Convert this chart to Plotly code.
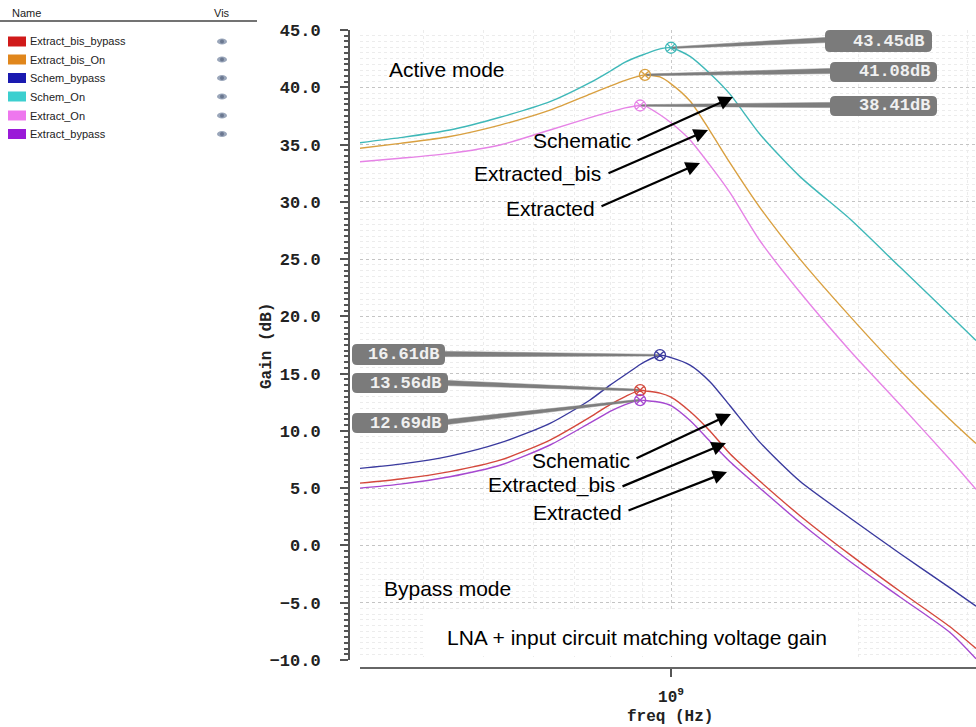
import plotly.graph_objects as go

W, H = 976, 727

# ---------------- data ----------------
freq_mhz = [316, 367, 441, 531, 639, 741, 798, 844, 892, 908, 960, 1000, 1073,
            1155, 1244, 1390, 1612, 1940, 2334, 2809, 3093]

extract_bis_bypass = [5.44, 5.8, 6.45, 7.45, 9.2, 11.2, 12.3, 13.0, 13.56, 13.5, 13.3,
                      12.95, 11.7, 10.0, 8.0, 5.6, 2.6, -0.8, -4.0, -7.1, -9.0]
extract_bis_on = [34.67, 35.1, 35.7, 36.7, 38.0, 39.4, 40.1, 40.6, 41.0, 41.08, 40.9,
                  40.3, 38.8, 36.2, 33.4, 29.5, 25.0, 20.0, 15.3, 11.0, 8.9]
schem_bypass = [6.73, 7.1, 7.8, 8.95, 10.66, 12.7, 14.0, 14.9, 15.8, 16.05, 16.61,
                16.4, 15.75, 14.3, 12.2, 9.0, 5.6, 2.4, -0.7, -3.7, -5.3]
schem_on = [35.16, 35.6, 36.27, 37.38, 38.74, 40.4, 41.4, 42.2, 42.75, 42.9, 43.35,
            43.45, 42.7, 41.2, 39.4, 35.9, 32.2, 28.5, 24.3, 20.1, 17.9]
extract_on = [33.5, 33.8, 34.23, 34.96, 36.27, 37.35, 37.85, 38.2, 38.41, 38.38, 37.6,
              36.9, 35.4, 33.2, 30.8, 26.6, 22.1, 17.0, 12.3, 7.5, 4.9]
extract_bypass = [5.0, 5.35, 6.0, 7.0, 8.77, 10.7, 11.7, 12.3, 12.69, 12.65, 12.5,
                  12.2, 10.9, 9.1, 7.3, 5.0, 2.0, -1.4, -4.5, -7.6, -9.9]

series_names = ["Extract_bis_bypass", "Extract_bis_On", "Schem_bypass",
                "Schem_On", "Extract_On", "Extract_bypass"]
series_values = [extract_bis_bypass, extract_bis_on, schem_bypass,
                 schem_on, extract_on, extract_bypass]

peak_freq_mhz = [892, 908, 960, 1000, 892, 892]
peak_gain = [13.56, 41.08, 16.61, 43.45, 38.41, 12.69]

y_tick_values = [-10, -5, 0, 5, 10, 15, 20, 25, 30, 35, 40, 45]
x_tick_values = [1e9]
x_tick_labels = ["10<sup>9</sup>"]
x_title = "freq (Hz)"
y_title = "Gain (dB)"

# ---------------- style ----------------
swatch_colors = ["#d01a1a", "#e0861c", "#1a1ab0", "#3ccfcf", "#ee77ee", "#9a1ad8"]
line_colors = ["#d4483c", "#d9a040", "#3a3a9e", "#3fb8b8", "#e683e6", "#a548d0"]

PX_L, PX_R = 360, 976
PY_T, PY_B = 30, 660
K = 622.0  # px per decade
X_LOG_RANGE = [9 - (671 - PX_L) / K, 9 + (PX_R - 671) / K]
Y_RANGE = [-10, 45]


def px2f(px):
    return 10 ** (9 + (px - 671) / K)


def py2db(py):
    return Y_RANGE[1] - (py - PY_T) * (Y_RANGE[1] - Y_RANGE[0]) / (PY_B - PY_T)


def X(px):
    return px / W


def Y(py):
    return 1 - py / H


MONO = "Liberation Mono"
SANS = "Liberation Sans"


def note(text, px, py, xa="center", ya="middle", font=None, **kw):
    d = dict(text=text, x=X(px), y=Y(py), xref="paper", yref="paper",
             xanchor=xa, yanchor=ya, showarrow=False, font=font)
    d.update(kw)
    return d


fig = go.Figure()

freq_hz = [f * 1e6 for f in freq_mhz]
for name, vals, col in zip(series_names, series_values, line_colors):
    fig.add_trace(go.Scatter(x=freq_hz, y=vals, mode="lines", name=name,
                             line=dict(color=col, width=1.4, shape="spline", smoothing=0.7),
                             hoverinfo="skip", showlegend=False))

label_boxes = {
    "Schem_On": ((825, 30, 932, 52), 926, (826, 40)),
    "Extract_bis_On": ((830, 62, 937, 82), 932, (831, 71)),
    "Extract_On": ((830, 96, 937, 116), 932, (831, 105)),
    "Schem_bypass": ((352, 344, 445, 365), 441, (444, 354)),
    "Extract_bis_bypass": ((352, 373, 448, 393), 443, (447, 383)),
    "Extract_bypass": ((352, 413, 448, 433), 443, (447, 422)),
}

dbpx = (Y_RANGE[1] - Y_RANGE[0]) / (PY_B - PY_T)
shapes = []
annotations = []
label_font = dict(family=MONO, size=17, color="#f0f0f0", weight="bold")

for name, pf, pg in zip(series_names, peak_freq_mhz, peak_gain):
    (bx0, by0, bx1, by1), tx, (ex, ey) = label_boxes[name]
    fm = pf * 1e6
    fb = px2f(ex)
    gb = py2db(ey)
    w1 = 0.8 * dbpx
    w2 = 2.6 * dbpx
    fig.add_trace(go.Scatter(
        x=[fm, fb, fb, fm, fm], y=[pg + w1, gb + w2, gb - w2, pg - w1, pg + w1],
        mode="lines", fill="toself", fillcolor="#7e7e7e",
        line=dict(width=0.5, color="#7e7e7e"), hoverinfo="skip", showlegend=False))
    r = 5
    path = (f"M {X(bx0 + r)} {Y(by0)} L {X(bx1 - r)} {Y(by0)} "
            f"Q {X(bx1)} {Y(by0)} {X(bx1)} {Y(by0 + r)} L {X(bx1)} {Y(by1 - r)} "
            f"Q {X(bx1)} {Y(by1)} {X(bx1 - r)} {Y(by1)} L {X(bx0 + r)} {Y(by1)} "
            f"Q {X(bx0)} {Y(by1)} {X(bx0)} {Y(by1 - r)} L {X(bx0)} {Y(by0 + r)} "
            f"Q {X(bx0)} {Y(by0)} {X(bx0 + r)} {Y(by0)} Z")
    shapes.append(dict(type="path", path=path, xref="paper", yref="paper",
                       fillcolor="#7b7b7b", line=dict(width=0), layer="above"))
    annotations.append(note(f"{pg:.2f}dB", tx, (by0 + by1) / 2, xa="right",
                            font=label_font))

for name, pf, pg, col in zip(series_names, peak_freq_mhz, peak_gain, line_colors):
    fig.add_trace(go.Scatter(x=[pf * 1e6], y=[pg], mode="markers",
                             marker=dict(symbol="circle-x-open", size=11,
                                         color=col, line=dict(width=1.3, color=col)),
                             hoverinfo="skip", showlegend=False))

big = dict(family=SANS, size=21, color="black")

shapes.append(dict(type="rect", xref="paper", yref="paper", x0=X(423), x1=X(858),
                   y0=Y(656), y1=Y(612), fillcolor="white", line=dict(width=0),
                   layer="above"))
annotations.append(note("LNA + input circuit matching voltage gain", 637, 637, font=big))
annotations.append(note("Active mode", 387, 70, xa="left", font=big))
annotations.append(note("Bypass mode", 382, 588, xa="left", font=big))

arrow_items = [
    ("Schematic", 633, 140, (636, 141), (733, 97)),
    ("Extracted_bis", 603, 174, (607, 174), (708, 130)),
    ("Extracted", 597, 208, (600, 207), (700, 163)),
    ("Schematic", 632, 461, (635, 459), (731, 414)),
    ("Extracted_bis", 617, 485, (621, 487), (726, 443)),
    ("Extracted", 624, 512, (627, 511), (727, 472)),
]
for txt, rx, cy, (tx0, ty0), (hx, hy) in arrow_items:
    annotations.append(note(txt, rx, cy, xa="right", font=big))
    annotations.append(dict(text="", x=X(hx), y=Y(hy), xref="paper", yref="paper",
                            ax=tx0 - hx, ay=ty0 - hy, axref="pixel", ayref="pixel",
                            showarrow=True, arrowhead=2, arrowsize=1.3, arrowwidth=2.2,
                            arrowcolor="black", standoff=0, startstandoff=0))

axis_font = dict(family=MONO, size=16, color="#222", weight="bold")
annotations.append(note(y_title, 267, 346, font=axis_font, textangle=-90))
annotations.append(note(x_title, 670, 717, font=axis_font))

small = dict(family=SANS, size=11, color="#222")
annotations.append(note("Name", 10, 13, xa="left", font=small))
annotations.append(note("Vis", 212, 13, xa="left", font=small))
shapes.append(dict(type="line", xref="paper", yref="paper", x0=0, x1=X(257),
                   y0=Y(21), y1=Y(21), line=dict(color="#444", width=1.5)))
row_y = [41.5, 59.5, 78, 96.5, 115.5, 134]
for name, col, cy in zip(series_names, swatch_colors, row_y):
    shapes.append(dict(type="rect", xref="paper", yref="paper", x0=X(8), x1=X(26),
                       y0=Y(cy + 5), y1=Y(cy - 5), fillcolor=col, line=dict(width=0)))
    annotations.append(note(name, 28, cy, xa="left",
                            font=dict(family=SANS, size=11, color="#222")))
    shapes.append(dict(type="circle", xref="paper", yref="paper", x0=X(217), x1=X(227),
                       y0=Y(cy + 3), y1=Y(cy - 3), fillcolor="#9aa6ba", line=dict(width=0)))
    shapes.append(dict(type="circle", xref="paper", yref="paper", x0=X(220), x1=X(224),
                       y0=Y(cy + 2), y1=Y(cy - 2), fillcolor="#6b7890", line=dict(width=0)))

fig.update_layout(
    width=W, height=H,
    margin=dict(l=0, r=0, t=0, b=0, pad=0, autoexpand=False),
    paper_bgcolor="white", plot_bgcolor="white",
    showlegend=False,
    shapes=shapes, annotations=annotations,
    xaxis=dict(type="log", range=X_LOG_RANGE, domain=[X(PX_L), 1],
               anchor="free", position=Y(668), automargin=False,
               tickvals=x_tick_values, ticktext=x_tick_labels,
               ticks="outside", ticklen=8, tickwidth=1.5, tickcolor="#555",
               showline=True, linecolor="#666", linewidth=2,
               showgrid=True, gridcolor="#c8c8c8", griddash="dot", gridwidth=1,
               minor=dict(dtick="D1", showgrid=True, gridcolor="#ececec",
                          griddash="dot", ticks=""),
               tickfont=dict(family=MONO, size=16, color="#222", weight="bold"),
               ticklabelstandoff=6, zeroline=False, fixedrange=True),
    yaxis=dict(range=Y_RANGE, domain=[Y(PY_B), Y(PY_T)],
               anchor="free", position=X(349), automargin=False,
               tickvals=y_tick_values, tickformat=".1f",
               ticks="outside", ticklen=8, tickwidth=1.5, tickcolor="#555",
               showline=True, linecolor="#555", linewidth=2,
               showgrid=True, gridcolor="#c4c4c4", griddash="dot", gridwidth=1,
               minor=dict(dtick=0.5, ticks="outside", ticklen=4, tickcolor="#555",
                          showgrid=True, gridcolor="#ececec", griddash="dot"),
               tickfont=dict(family=MONO, size=17, color="#222", weight="bold"),
               ticklabelstandoff=16, zeroline=False, fixedrange=True),
)

fig.write_html("out.html",
               config={"displayModeBar": False},
               post_script="document.body.style.margin='0';"
                           "document.body.style.overflow='hidden';")
